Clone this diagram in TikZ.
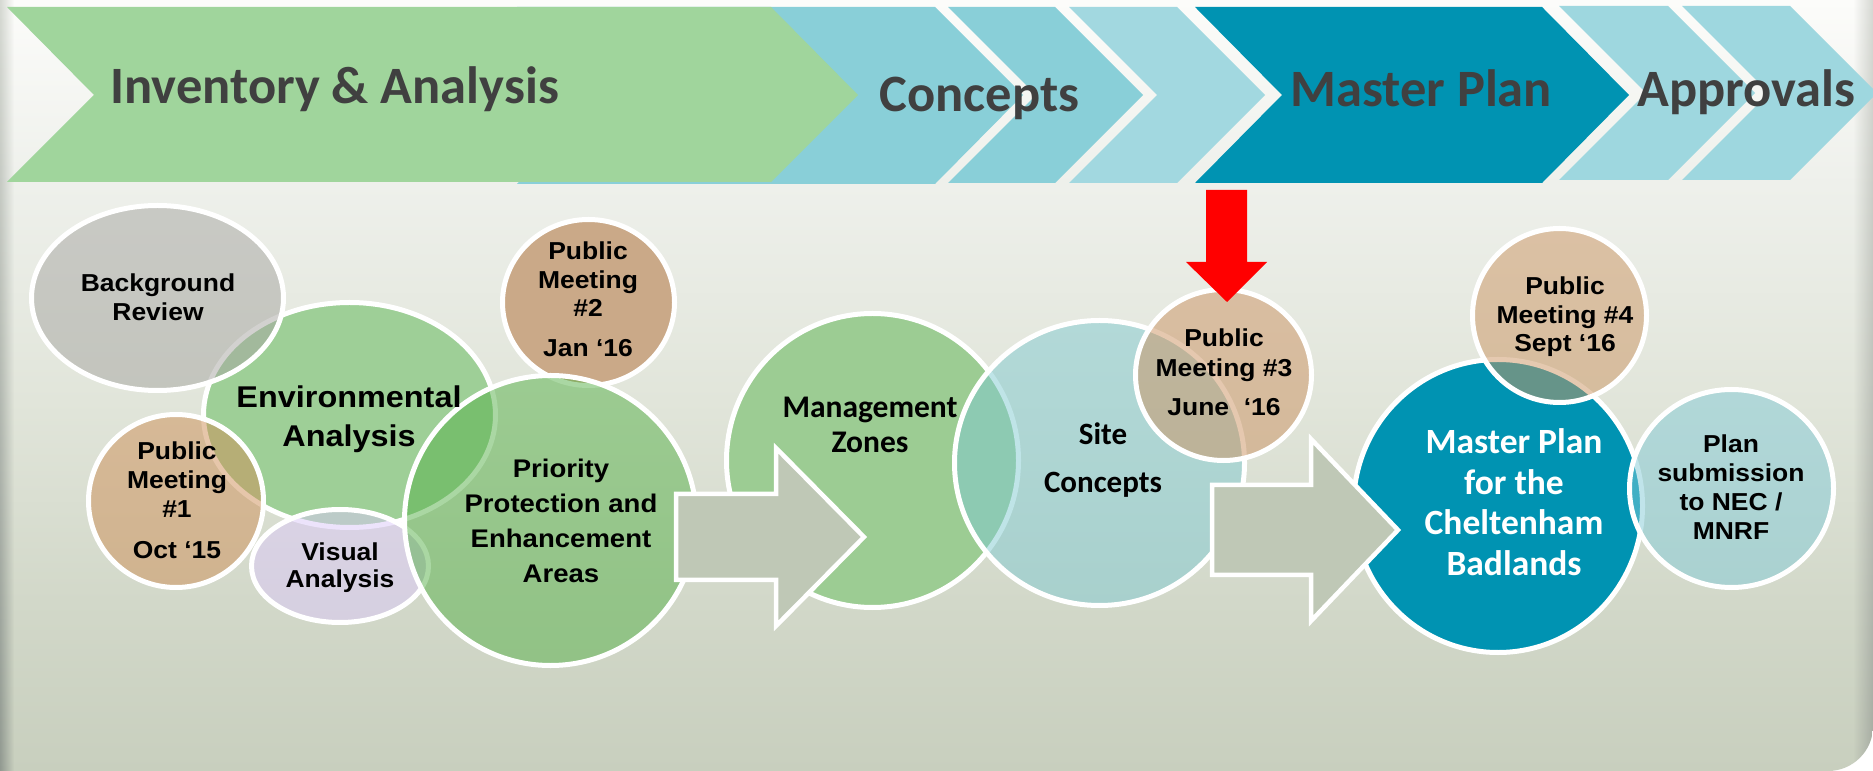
\documentclass[tikz,border=0pt]{standalone}
\usepackage{fontspec}
\newfontfamily\bodyfont[FakeStretch=1.08]{Liberation Sans}
\newfontfamily\calfont{Carlito}
\usetikzlibrary{shapes.geometric,fadings}

\definecolor{pc0}{RGB}{252,252,250}
\definecolor{pc1}{RGB}{238,240,235}
\definecolor{pc2}{RGB}{225,229,218}
\definecolor{pc3}{RGB}{210,216,201}
\definecolor{pc4}{RGB}{200,207,190}
\definecolor{shLa}{RGB}{214,217,211}
\definecolor{shLb}{RGB}{146,154,145}
\definecolor{shRa}{RGB}{214,216,211}
\definecolor{shRb}{RGB}{165,171,161}
\definecolor{chGreen}{RGB}{160,213,156}
\definecolor{chBlue}{RGB}{137,207,216}
\definecolor{chBlueL}{RGB}{162,216,224}
\definecolor{chTeal}{RGB}{0,147,178}
\definecolor{chAppr}{RGB}{158,215,223}
\definecolor{hdrc}{RGB}{64,64,64}
\definecolor{cEnv}{RGB}{158,207,151}
\definecolor{cBgr}{RGB}{166,165,161}
\definecolor{cPmA}{RGB}{206,143,86}
\definecolor{cVis}{RGB}{219,201,249}
\definecolor{cPmB}{RGB}{202,169,136}
\definecolor{cPri}{RGB}{86,177,72}
\definecolor{cMgt}{RGB}{156,204,147}
\definecolor{cSite}{RGB}{128,202,209}
\definecolor{cPmC}{RGB}{204,146,97}
\definecolor{cMas}{RGB}{0,147,178}
\definecolor{cPmD}{RGB}{204,149,98}
\definecolor{cPlan}{RGB}{130,203,215}
\definecolor{cArr}{RGB}{191,200,182}

\pgfdeclareverticalshading{panelshade}{100bp}{color(0bp)=(pc4); color(25bp)=(pc4); color(36bp)=(pc3); color(49bp)=(pc2); color(63bp)=(pc1); color(75bp)=(pc0); color(100bp)=(pc0)}
\tikzfading[name=fadeR, left color=transparent!0, right color=transparent!100]
\tikzfading[name=fadeL, left color=transparent!100, right color=transparent!0]

\newcommand\stack[1]{\vtop{\lineskiplimit=-\maxdimen\lineskip=0pt\halign{\hfil##\hfil\cr#1\crcr}}}

\tikzset{
  bubble/.style 2 args={ellipse, draw=white, line width=2pt, inner sep=0pt,
    minimum width={#1*0.8pt}, minimum height={#2*0.8pt}},
  semi/.style={fill opacity=0.5},
  grayarrow/.style={fill=cArr, draw=white, line width=1.8pt, line join=miter},
  txt/.style={inner sep=0pt, anchor=base, text=black},
  fs/.style 2 args={font=\bodyfont\bfseries\fontsize{#1}{#2}\selectfont},
  cfs/.style 2 args={font=\calfont\bfseries\fontsize{#1}{#2}\selectfont},
  hdr/.style={inner sep=0pt, anchor=base west, text=hdrc,
    font=\calfont\bfseries\fontsize{21pt}{25pt}\selectfont},
}

\begin{document}
\begin{tikzpicture}[x=0.4pt,y=-0.4pt]
\useasboundingbox (0,0) rectangle (1873,771);
\fill[white] (0,0) rectangle (1873,771);
% panel
\begin{scope}
  \clip (0,0) -- (1873,0) -- (1873,726) arc[start angle=0,end angle=90,radius=45] -- (0,771) -- cycle;
  \path[shading=panelshade] (0,0) rectangle (1873,771);
  \path[top color=shLa, bottom color=shLb, path fading=fadeR] (0,0) rectangle (14,771);
  \path[top color=shRa, bottom color=shRb, path fading=fadeL] (1853,0) rectangle (1873,771);
\end{scope}

% chevron band
\fill[chBlue] (517,7) -- (935,7) -- (1023,95) -- (935,184) -- (517,184) -- (605,95) -- cycle;
\fill[chBlue] (948,7) -- (1055,7) -- (1143,95) -- (1055,183) -- (948,183) -- (1036,95) -- cycle;
\fill[chBlueL] (1069,7) -- (1177,7) -- (1265,95) -- (1177,183) -- (1069,183) -- (1157,95) -- cycle;
\fill[chTeal] (1195,7) -- (1542,7) -- (1629,95) -- (1542,183) -- (1195,183) -- (1282,95) -- cycle;
\fill[chAppr] (1559,6) -- (1668,6) -- (1755,93) -- (1668,180) -- (1559,180) -- (1646,93) -- cycle;
\fill[chAppr] (1682,6) -- (1790,6) -- (1877,93) -- (1790,180) -- (1682,180) -- (1769,93) -- cycle;
\fill[chGreen] (7,7) -- (771,7) -- (858,95) -- (771,182) -- (7,182) -- (94,95) -- cycle;

% bubbles
\node[bubble={146}{112.5}, fill=cEnv] (env) at (349.5,415) {};
\node[bubble={126}{92.5}, fill=cBgr, semi] (bgr) at (157.5,298) {};
\node[bubble={87.5}{86.5}, fill=cPmA, semi] (pm1) at (176,501) {};
\node[bubble={88.5}{56.5}, fill=cVis, semi] (vis) at (340,566) {};
\node[bubble={86}{83}, fill=cPmB] (pm2) at (588.5,302.5) {};
\node[bubble={146}{145}, fill=cPri, semi] (pri) at (550.5,520.5) {};
\node[bubble={146}{147}, fill=cMgt] (mgt) at (872.5,460.5) {};
\node[bubble={145}{142.5}, fill=cSite, semi] (site) at (1099.5,463) {};
\node[bubble={88}{85.5}, fill=cPmC, semi] (pm3) at (1223.5,375) {};
\node[bubble={144.5}{146.5}, fill=cMas] (mas) at (1498,506) {};
\node[bubble={87}{87}, fill=cPmD, semi] (pm4) at (1559.5,315.5) {};
\node[bubble={102}{99}, fill=cPlan, semi] (plan) at (1731.5,488.5) {};

% block arrows
\draw[grayarrow] (676,494) -- (776,494) -- (776,448) -- (864,537) -- (776,626) -- (776,580) -- (676,580) -- cycle;
\draw[grayarrow] (1212,485) -- (1311,485) -- (1311,439) -- (1398,530) -- (1311,621) -- (1311,575) -- (1212,575) -- cycle;

% red arrow
\fill[red] (1206,190) -- (1247,190) -- (1247,262) -- (1267,262) -- (1227,302) -- (1186,262) -- (1206,262) -- cycle;

% header texts
\node[hdr] (hInv) at (110,104) {Inventory \& Analysis};
\node[hdr] (hCon) at (879,112) {Concepts};
\node[hdr] (hMas) at (1290,107) {Master Plan};
\node[hdr] (hApp) at (1637,107) {Approvals};

% bubble texts
\node[txt, fs={9.8pt}{11.6pt}] (tBgr) at (158,292) {\stack{Background\cr Review}};
\node[txt, fs={12pt}{15.6pt}] (tEnv) at (349,408) {\stack{Environmental\cr Analysis}};
\node[txt, fs={9.8pt}{11.6pt}] (tPm1) at (177,460) {\stack{Public\cr Meeting\cr \#1\cr\noalign{\vskip4.4pt}Oct ‘15}};
\node[txt, fs={9.8pt}{10.8pt}] (tVis) at (340,560) {\stack{Visual\cr Analysis}};
\node[txt, fs={10.2pt}{13.9pt}] (tPri) at (561,478) {\stack{Priority\cr Protection and\cr Enhancement\cr Areas}};
\node[txt, fs={9.8pt}{11.4pt}] (tPm2) at (588,260) {\stack{Public\cr Meeting\cr \#2\cr\noalign{\vskip4.6pt}Jan ‘16}};
\node[txt, cfs={12.6pt}{14pt}] (tMgt) at (870,418) {\stack{Management\cr Zones}};
\node[txt, cfs={12.4pt}{19.2pt}] (tSite) at (1103,445) {\stack{Site\cr Concepts}};
\node[txt, fs={9.8pt}{12pt}] (tPm3) at (1224,347) {\stack{Public\cr Meeting \#3\cr\noalign{\vskip3.6pt}June\ \ ‘16}};
\node[txt, cfs={14.2pt}{16.2pt}, text=white] (tMas) at (1514,454) {\stack{Master Plan\cr for the\cr Cheltenham\cr Badlands}};
\node[txt, fs={9.8pt}{11.4pt}] (tPm4) at (1565,295) {\stack{Public\cr Meeting \#4\cr Sept ‘16}};
\node[txt, fs={9.8pt}{11.5pt}] (tPlan) at (1731,453) {\stack{Plan\cr submission\cr to NEC /\cr MNRF}};
\end{tikzpicture}
\end{document}
